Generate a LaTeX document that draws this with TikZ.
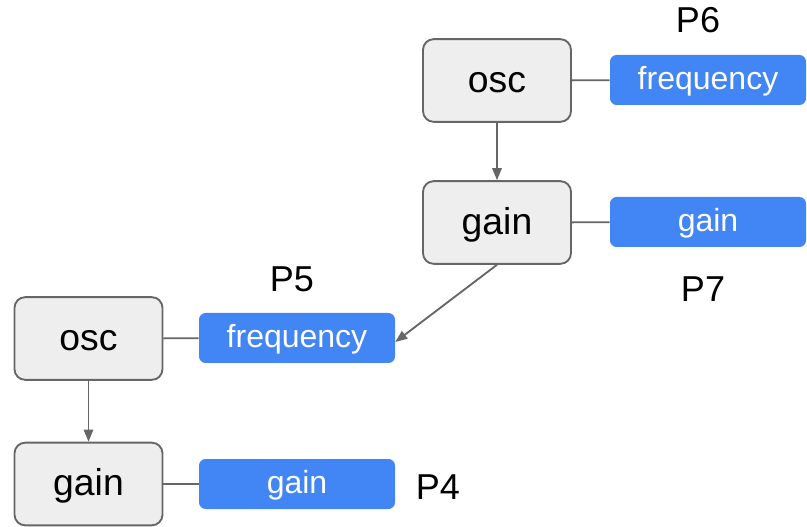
\documentclass[tikz,border=0pt]{standalone}
\usepackage{fontspec}
\setmainfont{Liberation Sans}
\usetikzlibrary{arrows.meta}
\definecolor{boxfill}{HTML}{EEEEEE}
\definecolor{boxline}{HTML}{666666}
\definecolor{parblue}{HTML}{4285F4}
\tikzset{
	unitbox/.style={draw=boxline,fill=boxfill,line width=1.4pt,rounded corners=8pt,
		minimum width=111pt,minimum height=62pt,inner sep=0,text height=22.4pt,text depth=5pt,
		font=\fontsize{28}{28}\selectfont},
	parbox/.style={fill=parblue,rounded corners=5pt,text=white,
		minimum width=147pt,minimum height=37.5pt,inner sep=0,text height=19.2pt,text depth=4.3pt,
		font=\fontsize{24}{24}\selectfont},
	plabel/.style={inner sep=0,font=\fontsize{27}{27}\selectfont},
	wire/.style={draw=boxline,line width=1.4pt},
	flow/.style={wire,-{Triangle[length=9pt,width=7pt]}}
}
\begin{document}
\begin{tikzpicture}[x=0.75pt,y=-0.75pt]
		\useasboundingbox (0,0) rectangle (807,527);
		% upper chain
		\node [unitbox] (osc1) at (497,80.5) {osc};
		\node [unitbox] (gain1) at (497,222.5) {gain};
		\node [parbox] (freq1) at (708,80) {frequency};
		\node [parbox] (amp1) at (708,222) {gain};
		\node [plabel] (p6) at (698,20) {P6};
		\node [plabel] (p7) at (703,289) {P7};
		% lower chain
		\node [unitbox] (osc2) at (88.5,338.5) {osc};
		\node [unitbox] (gain2) at (88.5,484) {gain};
		\node [parbox] (freq2) at (297,338) {frequency};
		\node [parbox] (amp2) at (297,484) {gain};
		\node [plabel] (p5) at (292,279) {P5};
		\node [plabel] (p4) at (438,487) {P4};
		\draw [wire] (osc1) -- (freq1);
		\draw [wire] (gain1) -- (amp1);
		\draw [wire] (osc2) -- (freq2);
		\draw [wire] (gain2) -- (amp2);
		\draw [flow] (osc1) -- (gain1);
		\draw [flow] (osc2) -- (gain2);
		\draw [flow] (gain1.south) -- ([yshift=-3pt]freq2.east);
\end{tikzpicture}
\end{document}
